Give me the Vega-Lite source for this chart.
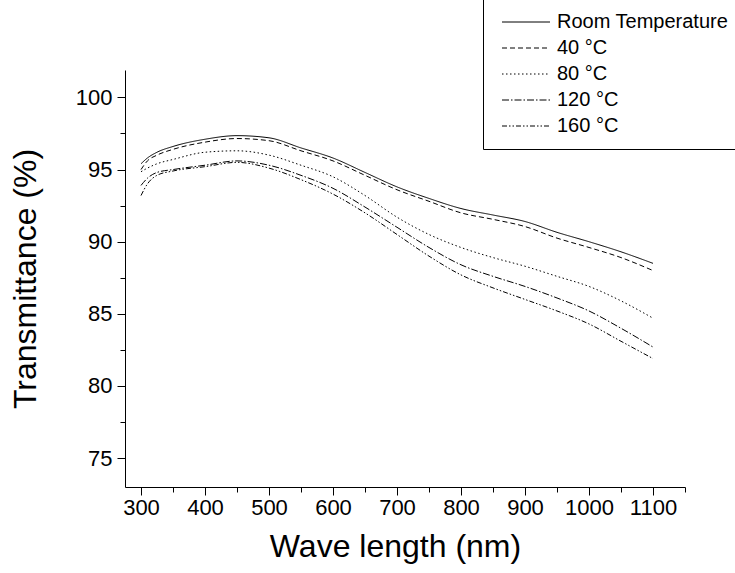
{
  "$schema": "https://vega.github.io/schema/vega-lite/v6.json",
  "autosize": {"type": "none"},
  "padding": {"left": 125, "top": 70, "right": 50, "bottom": 86},
  "width": 560,
  "height": 417,
  "background": "white",
  "config": {
    "view": {"stroke": null},
    "font": "Liberation Sans",
    "axis": {
      "domainColor": "black", "tickColor": "black", "labelColor": "black", "titleColor": "black",
      "labelFont": "Liberation Sans", "titleFont": "Liberation Sans",
      "titleFontWeight": "normal", "labelFontSize": 22, "titleFontSize": 32, "grid": false,
      "domainWidth": 1, "tickWidth": 1
    }
  },
  "data": {"values": [
    {"w": 300, "T": 95.4, "s": "Room Temperature"},
    {"w": 310, "T": 95.8, "s": "Room Temperature"},
    {"w": 325, "T": 96.2, "s": "Room Temperature"},
    {"w": 350, "T": 96.6, "s": "Room Temperature"},
    {"w": 400, "T": 97.1, "s": "Room Temperature"},
    {"w": 450, "T": 97.35, "s": "Room Temperature"},
    {"w": 500, "T": 97.2, "s": "Room Temperature"},
    {"w": 550, "T": 96.5, "s": "Room Temperature"},
    {"w": 600, "T": 95.8, "s": "Room Temperature"},
    {"w": 650, "T": 94.8, "s": "Room Temperature"},
    {"w": 700, "T": 93.8, "s": "Room Temperature"},
    {"w": 750, "T": 93.0, "s": "Room Temperature"},
    {"w": 800, "T": 92.3, "s": "Room Temperature"},
    {"w": 850, "T": 91.85, "s": "Room Temperature"},
    {"w": 900, "T": 91.4, "s": "Room Temperature"},
    {"w": 950, "T": 90.65, "s": "Room Temperature"},
    {"w": 1000, "T": 90.0, "s": "Room Temperature"},
    {"w": 1050, "T": 89.3, "s": "Room Temperature"},
    {"w": 1100, "T": 88.5, "s": "Room Temperature"},

    {"w": 300, "T": 95.0, "s": "40 °C"},
    {"w": 310, "T": 95.6, "s": "40 °C"},
    {"w": 325, "T": 96.0, "s": "40 °C"},
    {"w": 350, "T": 96.4, "s": "40 °C"},
    {"w": 400, "T": 96.9, "s": "40 °C"},
    {"w": 450, "T": 97.15, "s": "40 °C"},
    {"w": 500, "T": 97.0, "s": "40 °C"},
    {"w": 550, "T": 96.3, "s": "40 °C"},
    {"w": 600, "T": 95.6, "s": "40 °C"},
    {"w": 650, "T": 94.6, "s": "40 °C"},
    {"w": 700, "T": 93.6, "s": "40 °C"},
    {"w": 750, "T": 92.8, "s": "40 °C"},
    {"w": 800, "T": 92.0, "s": "40 °C"},
    {"w": 850, "T": 91.55, "s": "40 °C"},
    {"w": 900, "T": 91.05, "s": "40 °C"},
    {"w": 950, "T": 90.25, "s": "40 °C"},
    {"w": 1000, "T": 89.6, "s": "40 °C"},
    {"w": 1050, "T": 88.9, "s": "40 °C"},
    {"w": 1100, "T": 88.0, "s": "40 °C"},

    {"w": 300, "T": 94.85, "s": "80 °C"},
    {"w": 310, "T": 95.1, "s": "80 °C"},
    {"w": 325, "T": 95.4, "s": "80 °C"},
    {"w": 350, "T": 95.7, "s": "80 °C"},
    {"w": 400, "T": 96.2, "s": "80 °C"},
    {"w": 450, "T": 96.3, "s": "80 °C"},
    {"w": 500, "T": 96.0, "s": "80 °C"},
    {"w": 550, "T": 95.3, "s": "80 °C"},
    {"w": 600, "T": 94.5, "s": "80 °C"},
    {"w": 650, "T": 93.2, "s": "80 °C"},
    {"w": 700, "T": 91.7, "s": "80 °C"},
    {"w": 750, "T": 90.5, "s": "80 °C"},
    {"w": 800, "T": 89.6, "s": "80 °C"},
    {"w": 850, "T": 88.9, "s": "80 °C"},
    {"w": 900, "T": 88.3, "s": "80 °C"},
    {"w": 950, "T": 87.6, "s": "80 °C"},
    {"w": 1000, "T": 86.9, "s": "80 °C"},
    {"w": 1050, "T": 85.9, "s": "80 °C"},
    {"w": 1100, "T": 84.7, "s": "80 °C"},

    {"w": 300, "T": 93.9, "s": "120 °C"},
    {"w": 310, "T": 94.4, "s": "120 °C"},
    {"w": 325, "T": 94.8, "s": "120 °C"},
    {"w": 350, "T": 95.0, "s": "120 °C"},
    {"w": 400, "T": 95.3, "s": "120 °C"},
    {"w": 450, "T": 95.6, "s": "120 °C"},
    {"w": 500, "T": 95.3, "s": "120 °C"},
    {"w": 550, "T": 94.6, "s": "120 °C"},
    {"w": 600, "T": 93.7, "s": "120 °C"},
    {"w": 650, "T": 92.4, "s": "120 °C"},
    {"w": 700, "T": 91.0, "s": "120 °C"},
    {"w": 750, "T": 89.6, "s": "120 °C"},
    {"w": 800, "T": 88.4, "s": "120 °C"},
    {"w": 850, "T": 87.6, "s": "120 °C"},
    {"w": 900, "T": 86.9, "s": "120 °C"},
    {"w": 950, "T": 86.1, "s": "120 °C"},
    {"w": 1000, "T": 85.2, "s": "120 °C"},
    {"w": 1050, "T": 84.0, "s": "120 °C"},
    {"w": 1100, "T": 82.7, "s": "120 °C"},

    {"w": 300, "T": 93.2, "s": "160 °C"},
    {"w": 310, "T": 94.0, "s": "160 °C"},
    {"w": 325, "T": 94.6, "s": "160 °C"},
    {"w": 350, "T": 94.9, "s": "160 °C"},
    {"w": 400, "T": 95.2, "s": "160 °C"},
    {"w": 450, "T": 95.5, "s": "160 °C"},
    {"w": 500, "T": 95.1, "s": "160 °C"},
    {"w": 550, "T": 94.3, "s": "160 °C"},
    {"w": 600, "T": 93.3, "s": "160 °C"},
    {"w": 650, "T": 92.0, "s": "160 °C"},
    {"w": 700, "T": 90.5, "s": "160 °C"},
    {"w": 750, "T": 89.0, "s": "160 °C"},
    {"w": 800, "T": 87.7, "s": "160 °C"},
    {"w": 850, "T": 86.8, "s": "160 °C"},
    {"w": 900, "T": 86.0, "s": "160 °C"},
    {"w": 950, "T": 85.2, "s": "160 °C"},
    {"w": 1000, "T": 84.3, "s": "160 °C"},
    {"w": 1050, "T": 83.1, "s": "160 °C"},
    {"w": 1100, "T": 81.9, "s": "160 °C"}
  ]},
  "mark": {"type": "line", "color": "black", "strokeWidth": 1, "interpolate": "monotone"},
  "encoding": {
    "x": {
      "field": "w", "type": "quantitative",
      "scale": {"domain": [275, 1150], "nice": false, "zero": false},
      "axis": {
        "title": "Wave length (nm)",
        "format": "d",
        "values": [300, 350, 400, 450, 500, 550, 600, 650, 700, 750, 800, 850, 900, 950, 1000, 1050, 1100, 1150],
        "labelExpr": "datum.value % 100 === 0 && datum.value <= 1100 ? datum.label : ''",
        "tickSize": {"condition": {"test": "datum.value % 100 === 0", "value": 8}, "value": 5},
        "labelPadding": 2,
        "labelFlush": false,
        "labelOverlap": false,
        "titlePadding": 13,
        "titleX": 270
      }
    },
    "y": {
      "field": "T", "type": "quantitative",
      "scale": {"domain": [73, 101.9], "nice": false, "zero": false},
      "axis": {
        "title": "Transmittance (%)",
        "format": "d",
        "values": [75, 77.5, 80, 82.5, 85, 87.5, 90, 92.5, 95, 97.5, 100],
        "labelExpr": "datum.value % 5 === 0 ? datum.label : ''",
        "tickSize": {"condition": {"test": "datum.value % 5 === 0", "value": 8}, "value": 5},
        "labelPadding": 5,
        "labelFlush": false,
        "labelOverlap": false,
        "titlePadding": 33
      }
    },
    "strokeDash": {
      "field": "s", "type": "nominal",
      "scale": {
        "domain": ["Room Temperature", "40 °C", "80 °C", "120 °C", "160 °C"],
        "range": [[1, 0], [5, 3], [1.5, 2.5], [7, 2, 1.5, 2], [5, 2, 1.5, 2, 1.5, 2]]
      },
      "legend": {
        "title": null,
        "orient": "none",
        "legendX": 358,
        "legendY": -71,
        "strokeColor": "black",
        "fillColor": "white",
        "padding": 13,
        "cornerRadius": 0,
        "symbolType": "M-4,0H4",
        "symbolSize": 144,
        "symbolStrokeWidth": 1,
        "symbolStrokeColor": "black",
        "symbolOffset": 20,
        "labelOffset": 21,
        "labelFontSize": 20,
        "labelLimit": 400,
        "labelFont": "Liberation Sans",
        "labelColor": "black",
        "rowPadding": 6
      }
    }
  }
}
